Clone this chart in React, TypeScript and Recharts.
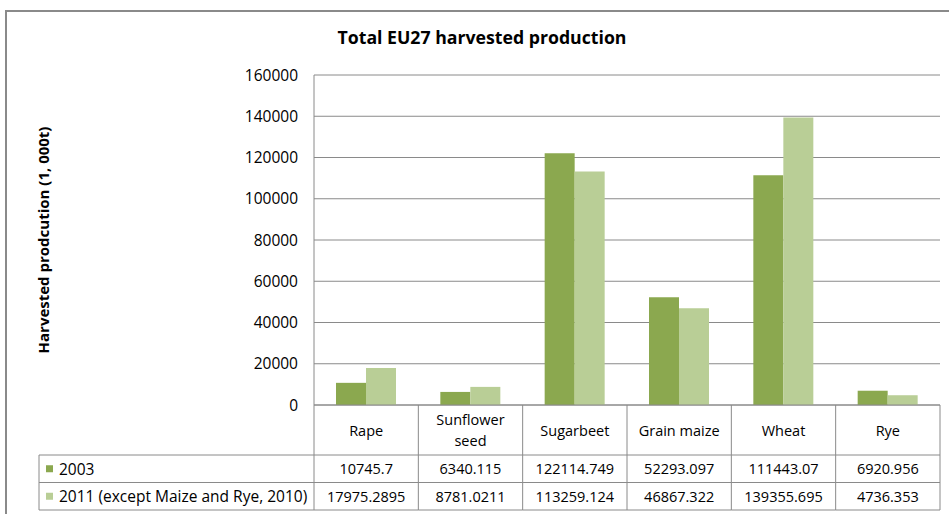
import React from 'react';
import { BarChart, Bar, XAxis, YAxis, CartesianGrid } from 'recharts';

// Crops shown on the category axis
const categories = ['Rape', 'Sunflower seed', 'Sugarbeet', 'Grain maize', 'Wheat', 'Rye'];
// Harvested production, 1,000 t
const values2003 = [10745.7, 6340.115, 122114.749, 52293.097, 111443.07, 6920.956];
const values2011 = [17975.2895, 8781.0211, 113259.124, 46867.322, 139355.695, 4736.353];
const seriesNames = ['2003', '2011 (except Maize and Rye, 2010)'];
const yTicks = [0, 20000, 40000, 60000, 80000, 100000, 120000, 140000, 160000];

const title = 'Total EU27 harvested production';
const yLabel = 'Harvested prodcution (1, 000t)';

const COLORS = ['#8BA84F', '#B9CE96'];
const LINE = '#8a8a8a';
const FONT = '"Open Sans", Lato, sans-serif';
const TABLE_FONT_SIZE = 14.5;

const W = 949;
const H = 514;
const PLOT_LEFT = 314;
const PLOT_TOP = 75;
const PLOT_RIGHT = 940;
const AXIS_H = 109;
const HEADER_H = 50;
const ROW_H = 27.5;
const TABLE_LEFT = 39;

const data = categories.map((name, i) => ({
  name,
  s2003: values2003[i],
  s2011: values2011[i],
}));

const rowValues = [values2003, values2011];

// Splits long category names onto two lines inside the header cell
const wrapLabel = (text: string, width: number): string[] => {
  if (text.length * 7.4 <= width - 12) return [text];
  const words = text.split(' ');
  if (words.length < 2) return [text];
  return [words.slice(0, -1).join(' '), words[words.length - 1]];
};

const TableTick = (props: any) => {
  const { x, y, payload, index } = props;
  const i = payload?.index ?? index;
  const half = payload?.offset ?? (PLOT_RIGHT - PLOT_LEFT) / categories.length / 2;
  const left = x - half;
  const right = x + half;
  const top = y;
  const r1 = top + HEADER_H;
  const r2 = r1 + ROW_H;
  const r3 = r2 + ROW_H;
  const lines = wrapLabel(String(payload.value), half * 2);
  const lineH = 21;
  const headerMid = top + HEADER_H / 2;
  const firstY = headerMid - ((lines.length - 1) * lineH) / 2;
  const isLast = i === categories.length - 1;

  return (
    <g fontFamily={FONT} fontSize={TABLE_FONT_SIZE} fill="#000">
      <line x1={left} x2={left} y1={top} y2={r3} stroke={LINE} strokeWidth={1} />
      {isLast && <line x1={right} x2={right} y1={top} y2={r3} stroke={LINE} strokeWidth={1} />}
      {[r1, r2, r3].map((ry, k) => (
        <line key={k} x1={left} x2={right} y1={ry} y2={ry} stroke={LINE} strokeWidth={1} />
      ))}
      {lines.map((t, k) => (
        <text key={k} x={x} y={firstY + k * lineH} textAnchor="middle" dominantBaseline="central">
          {t}
        </text>
      ))}
      {rowValues.map((vals, k) => (
        <text
          key={k}
          x={x}
          y={r1 + ROW_H * k + ROW_H / 2}
          textAnchor="middle"
          dominantBaseline="central"
        >
          {String(vals[i])}
        </text>
      ))}
      {i === 0 && (
        <g>
          <line x1={TABLE_LEFT} x2={TABLE_LEFT} y1={r1} y2={r3} stroke={LINE} strokeWidth={1} />
          {[r1, r2, r3].map((ry, k) => (
            <line key={k} x1={TABLE_LEFT} x2={left} y1={ry} y2={ry} stroke={LINE} strokeWidth={1} />
          ))}
          {seriesNames.map((name, k) => {
            const cy = r1 + ROW_H * k + ROW_H / 2;
            return (
              <g key={k}>
                <rect x={TABLE_LEFT + 7} y={cy - 3.5} width={7} height={7} fill={COLORS[k]} />
                <text
                  x={TABLE_LEFT + 20}
                  y={cy}
                  textAnchor="start"
                  dominantBaseline="central"
                  fontSize={15.5}
                >
                  {name}
                </text>
              </g>
            );
          })}
        </g>
      )}
    </g>
  );
};

const YLabel = (props: any) => {
  const vb = props.viewBox || {};
  const cy = vb.y + vb.height / 2;
  return (
    <text
      transform={`translate(49,${cy}) rotate(-90)`}
      textAnchor="middle"
      fontFamily={FONT}
      fontSize={15}
      fontWeight="bold"
      fill="#000"
    >
      {yLabel}
    </text>
  );
};

export default function App() {
  const yAxisWidth = 60;
  return (
    <div
      style={{
        position: 'absolute',
        left: 0,
        top: 0,
        width: W,
        height: H,
        overflow: 'hidden',
        background: '#fff',
      }}
    >
      <div
        style={{
          position: 'absolute',
          left: 0,
          top: 25,
          width: 964,
          textAlign: 'center',
          fontFamily: FONT,
          fontWeight: 'bold',
          fontSize: 17.7,
          lineHeight: '24px',
          color: '#000',
        }}
      >
        {title}
      </div>
      <div style={{ position: 'absolute', left: 0, top: 0 }}>
        <BarChart
          width={W}
          height={H}
          data={data}
          margin={{ top: PLOT_TOP, right: W - PLOT_RIGHT, bottom: 0, left: PLOT_LEFT - yAxisWidth }}
          barCategoryGap={22}
          barGap={0}
        >
          <CartesianGrid vertical={false} stroke={LINE} strokeWidth={1} />
          <XAxis
            dataKey="name"
            height={AXIS_H}
            interval={0}
            tickLine={false}
            tickSize={0}
            tickMargin={0}
            axisLine={{ stroke: LINE }}
            tick={<TableTick />}
          />
          <YAxis
            width={yAxisWidth}
            domain={[0, 160000]}
            ticks={yTicks}
            interval={0}
            tickLine={false}
            tickSize={6}
            tickMargin={10}
            axisLine={{ stroke: LINE }}
            tick={{ fontFamily: FONT, fontSize: 15.5, fill: '#000' }}
            label={<YLabel />}
          />
          <Bar dataKey="s2003" name={seriesNames[0]} fill={COLORS[0]} isAnimationActive={false} />
          <Bar dataKey="s2011" name={seriesNames[1]} fill={COLORS[1]} isAnimationActive={false} />
        </BarChart>
      </div>
      {/* chart frame, running off the right and bottom edges */}
      <div
        style={{
          position: 'absolute',
          left: 5,
          top: 10,
          width: W + 40,
          height: H + 40,
          borderTop: `2px solid ${LINE}`,
          borderLeft: `2px solid ${LINE}`,
          boxSizing: 'border-box',
          pointerEvents: 'none',
        }}
      />
    </div>
  );
}
